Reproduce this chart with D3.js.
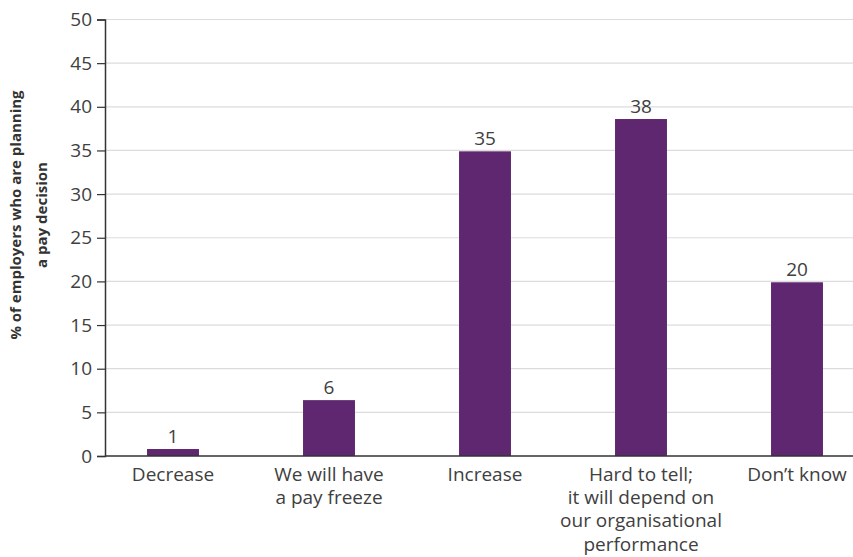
<!DOCTYPE html>
<html>
<head>
<meta charset="utf-8">
<script src="https://cdn.jsdelivr.net/npm/d3@7"></script>
<style>
  body { margin: 0; background: #fff; }
  text { font-family: "Open Sans", sans-serif; }
</style>
</head>
<body>
<div id="chart"></div>
<script>
// categories (multi-line labels) and values
const categories = ["Decrease", "We will have a pay freeze", "Increase",
    "Hard to tell; it will depend on our organisational performance", "Don\u2019t know"];
const categoryLines = [
    ["Decrease"],
    ["We will have", "a pay freeze"],
    ["Increase"],
    ["Hard to tell;", "it will depend on", "our organisational", "performance"],
    ["Don\u2019t know"]
];
const values = [0.8, 6.4, 34.9, 38.6, 19.9];
const valueLabels = ["1", "6", "35", "38", "20"];
const yTicks = [0, 5, 10, 15, 20, 25, 30, 35, 40, 45, 50];
const yTitle = ["% of employers who are planning", "a pay decision"];

const width = 853, height = 557;
const barColor = "#5f276f";
const textColor = "#404040";

let svg = d3.select("#chart").append("svg")
    .attr("width", width)
    .attr("height", height);

let axisX = 105;

//define scales
let x = d3.scaleBand()
    .domain(categories)
    .range([95, 875])
    .paddingInner(0.667)
    .paddingOuter(0.3335);

let y = d3.scaleLinear()
    .domain([0, 50])
    .range([456, 19.5]);

// gridlines
svg.append("g")
    .selectAll("line")
    .data(yTicks.filter(d => d > 0))
    .enter().append("line")
    .attr("x1", axisX)
    .attr("x2", width)
    .attr("y1", d => y(d))
    .attr("y2", d => y(d))
    .attr("stroke", "#dcdcdc")
    .attr("stroke-width", 1.2);

// bars
svg.append("g")
    .selectAll("rect")
    .data(values)
    .enter().append("rect")
    .attr("x", (d, i) => x(categories[i]))
    .attr("y", d => y(d))
    .attr("width", x.bandwidth())
    .attr("height", d => y(0) - y(d))
    .attr("fill", barColor);

// value labels
svg.append("g")
    .selectAll("text")
    .data(values)
    .enter().append("text")
    .attr("x", (d, i) => x(categories[i]) + x.bandwidth() / 2)
    .attr("y", d => y(d) - 6)
    .attr("text-anchor", "middle")
    .attr("font-size", 19)
    .attr("fill", textColor)
    .text((d, i) => valueLabels[i]);

// y axis
let yAxis = svg.append("g")
    .attr("transform", `translate(${axisX},0)`)
    .call(d3.axisLeft(y).tickValues(yTicks).tickSize(8).tickPadding(5));
yAxis.select(".domain").attr("stroke", "#333").attr("stroke-width", 1.5);
yAxis.selectAll(".tick line").attr("stroke", "#333").attr("stroke-width", 1.2);
yAxis.selectAll(".tick text")
    .attr("font-size", 19)
    .attr("font-family", "Open Sans, sans-serif")
    .attr("fill", textColor);

// x axis baseline
svg.append("line")
    .attr("x1", axisX)
    .attr("x2", width)
    .attr("y1", y(0))
    .attr("y2", y(0))
    .attr("stroke", "#333")
    .attr("stroke-width", 1.5);

// category labels
let catText = svg.append("g")
    .selectAll("text")
    .data(categories)
    .enter().append("text")
    .attr("text-anchor", "middle")
    .attr("font-size", 19)
    .attr("fill", textColor)
    .attr("transform", d => `translate(${x(d) + x.bandwidth() / 2}, 481)`);
catText.selectAll("tspan")
    .data((d, i) => categoryLines[i])
    .enter().append("tspan")
    .attr("x", 0)
    .attr("dy", (d, i) => i === 0 ? 0 : 23.2)
    .text(d => d);

// y axis title
let title = svg.append("text")
    .attr("transform", "translate(21, 215) rotate(-90)")
    .attr("text-anchor", "middle")
    .attr("font-size", 15)
    .attr("font-weight", "bold")
    .attr("fill", "#333");
title.selectAll("tspan")
    .data(yTitle)
    .enter().append("tspan")
    .attr("x", 0)
    .attr("dy", (d, i) => i === 0 ? 0 : 26)
    .text(d => d);
</script>
</body>
</html>
